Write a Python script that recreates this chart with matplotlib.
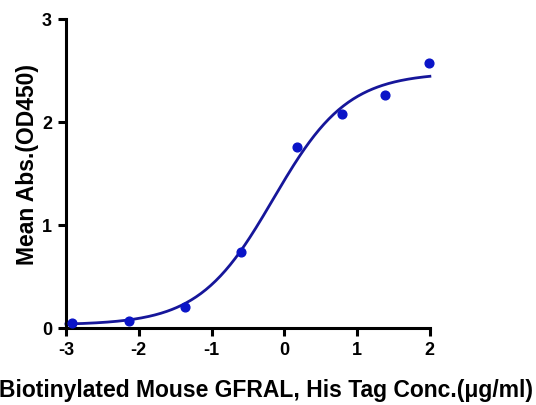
import numpy as np
import matplotlib
matplotlib.use("Agg")
import matplotlib.pyplot as plt

plt.rcParams["font.family"] = ["Liberation Sans", "DejaVu Sans"]
plt.rcParams["font.weight"] = "bold"
plt.rcParams["axes.unicode_minus"] = False

# measured points (log10 conc, mean OD450)
log_conc = [-2.92, -2.14, -1.37, -0.59, 0.18, 0.79, 1.39, 1.99]
mean_abs = [0.05, 0.07, 0.20, 0.74, 1.76, 2.08, 2.26, 2.57]

# 4PL fit parameters
BOTTOM = 0.03
TOP = 2.48
LOG_EC50 = -0.15
HILL = 0.85

X_LABEL = "Biotinylated Mouse GFRAL, His Tag Conc.(\u03bcg/ml)"
Y_LABEL = "Mean Abs.(OD450)"

LINE_COLOR = "#16169a"
DOT_COLOR = "#0a14c8"

fig = plt.figure(figsize=(5.36, 4.05), dpi=100)
ax = fig.add_axes([0.123, 0.19, 0.679, 0.763])

xs = np.linspace(-3.0, 2.0, 300)
ys = BOTTOM + (TOP - BOTTOM) / (1 + 10 ** ((LOG_EC50 - xs) * HILL))
ax.plot(xs, ys, color=LINE_COLOR, linewidth=2.0, zorder=2, clip_on=False)
ax.plot(log_conc, mean_abs, "o", color=DOT_COLOR, markersize=6.3,
        zorder=3, clip_on=False)

ax.set_xlim(-3, 2)
ax.set_ylim(0, 3)
ax.set_xticks([-3, -2, -1, 0, 1, 2])
ax.set_yticks([0, 1, 2, 3])

for side in ["top", "right"]:
    ax.spines[side].set_visible(False)
for side in ["left", "bottom"]:
    ax.spines[side].set_linewidth(2.2)

ax.tick_params(axis="both", direction="out", length=6, width=2.2,
               labelsize=13, pad=4)
for lab in ax.get_xticklabels() + ax.get_yticklabels():
    lab.set_fontweight("bold")

fig.text(0.497, 0.02, X_LABEL, ha="center", va="baseline",
         fontsize=16.5, fontweight="bold")
fig.text(0.052, 0.594, Y_LABEL, ha="center", va="center", rotation=90,
         fontsize=16.5, fontweight="bold")

fig.savefig("out.png", dpi=100)
